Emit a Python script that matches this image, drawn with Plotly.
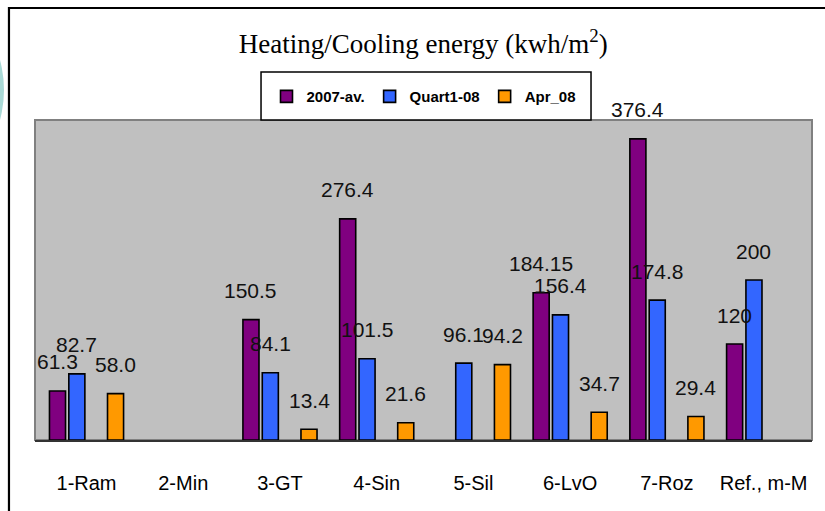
import plotly.graph_objects as go

categories = ["1-Ram", "2-Min", "3-GT", "4-Sin", "5-Sil", "6-LvO", "7-Roz", "Ref., m-M"]
av2007 = [61.3, None, 150.5, 276.4, None, 184.15, 376.4, 120]
quart1_08 = [82.7, None, 84.1, 101.5, 96.1, 156.4, 174.8, 200]
spacer = [None] * 8  # empty series in the original workbook (keeps its slot)
apr_08 = [58.0, None, 13.4, 21.6, 94.2, 34.7, 29.4, None]

series = [
    ("2007-av.", av2007, "#800080", True),
    ("Quart1-08", quart1_08, "#3366FF", True),
    (" ", spacer, "#000000", False),
    ("Apr_08", apr_08, "#FF9900", True),
]

BARGAP = 0.2
fig = go.Figure()
for name, vals, color, show in series:
    fig.add_trace(go.Bar(
        x=categories, y=vals, name=name, showlegend=show,
        marker=dict(color=color, line=dict(color="black", width=1.6)),
    ))

# value labels
slot = (1 - BARGAP) / len(series)
annotations = []
for k, (name, vals, color, show) in enumerate(series):
    if not show:
        continue
    for i, v in enumerate(vals):
        if v is None:
            continue
        annotations.append(dict(
            x=i + (k - (len(series) - 1) / 2) * slot, y=v, xref="x", yref="y",
            text=str(v), showarrow=False, yanchor="middle", yshift=29,
            font=dict(family="Arial", size=21, color="#111111"),
        ))

shapes = [
    # teal slide decoration at far left
    dict(type="circle", xref="paper", yref="paper",
         x0=-0.3346, x1=-0.0399, y0=0.736, y1=1.4516,
         fillcolor="#a9d9d6", line=dict(width=0), layer="below"),
    # outer black frame
    dict(type="rect", xref="paper", yref="paper",
         x0=-0.0335, x1=1.06, y0=-0.35, y1=1.35,
         line=dict(color="black", width=2.2), fillcolor="rgba(0,0,0,0)", layer="below"),
    # plot area border
    dict(type="rect", xref="paper", yref="paper", x0=0, x1=1, y0=0, y1=1,
         line=dict(color="#808080", width=2), fillcolor="rgba(0,0,0,0)", layer="below"),
    # legend box
    dict(type="rect", xref="paper", yref="paper", x0=0.2909, x1=0.7156, y0=1.0, y1=1.15,
         line=dict(color="black", width=1.5), fillcolor="white", layer="above"),
]

fig.update_layout(
    width=825, height=511,
    margin=dict(l=35, r=13, t=120, b=71),
    paper_bgcolor="white", plot_bgcolor="#C0C0C0",
    barmode="group", bargap=BARGAP, bargroupgap=0.17,
    title=dict(text="Heating/Cooling energy (kwh/m<sup>2</sup>)",
               font=dict(family="Liberation Serif", size=27, color="black"),
               x=0.513, xref="container", xanchor="center",
               y=0.914, yref="container", yanchor="middle"),
    legend=dict(orientation="h", x=0.5, xanchor="center", y=1.073, yanchor="middle",
                bgcolor="rgba(0,0,0,0)", borderwidth=0,
                font=dict(family="Arial", size=15, color="black", weight="bold")),
    xaxis=dict(type="category", categoryorder="array", categoryarray=categories,
               showline=True, linecolor="#333333", linewidth=2, ticks="",
               ticklabelstandoff=24, showgrid=False,
               tickfont=dict(family="Arial", size=20, color="black")),
    yaxis=dict(range=[0, 400], showgrid=False, showticklabels=False,
               zeroline=False, showline=False),
    annotations=annotations,
    shapes=shapes,
)

fig.write_html("out.html", config={"displayModeBar": False},
               post_script="document.body.style.margin='0px';document.body.style.overflow='hidden';")
